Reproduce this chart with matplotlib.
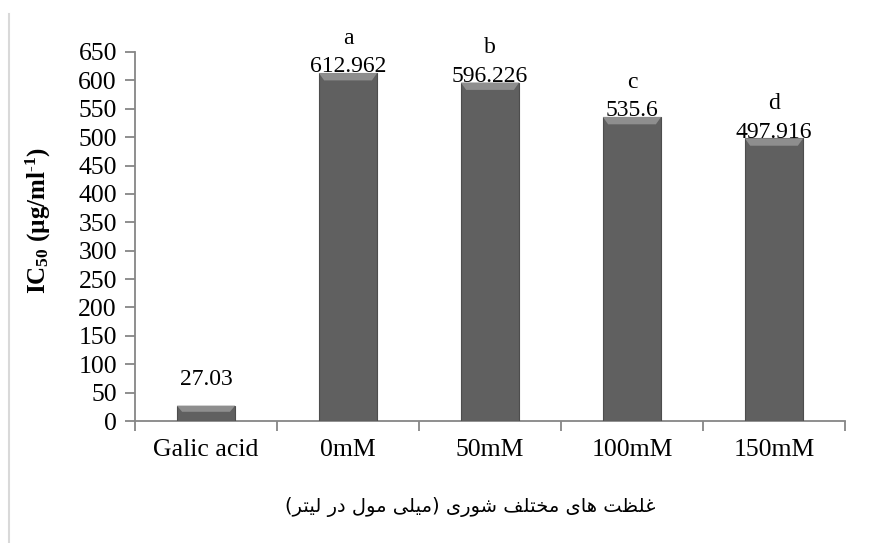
import matplotlib
matplotlib.use("Agg")
import matplotlib.pyplot as plt
from matplotlib.patches import Polygon
from matplotlib.lines import Line2D
import numpy as np

categories = ["Galic acid", "0mM", "50mM", "100mM", "150mM"]
ic50 = [27.03, 612.962, 596.226, 535.6, 497.916]
value_labels = ["27.03", "612.962", "596.226", "535.6", "497.916"]
letters = ["", "a", "b", "c", "d"]
yticks = list(range(0, 651, 50))

xlabel_fa = "غلظت های مختلف شوری (میلی مول در لیتر)"

# presentation forms: isolated, final, initial, medial (None = right-joining only)
FORMS = {
    "ا": ("\uFE8D", "\uFE8E", None, None),
    "ت": ("\uFE95", "\uFE96", "\uFE97", "\uFE98"),
    "خ": ("\uFEA5", "\uFEA6", "\uFEA7", "\uFEA8"),
    "د": ("\uFEA9", "\uFEAA", None, None),
    "ر": ("\uFEAD", "\uFEAE", None, None),
    "ش": ("\uFEB5", "\uFEB6", "\uFEB7", "\uFEB8"),
    "ظ": ("\uFEC5", "\uFEC6", "\uFEC7", "\uFEC8"),
    "غ": ("\uFECD", "\uFECE", "\uFECF", "\uFED0"),
    "ف": ("\uFED1", "\uFED2", "\uFED3", "\uFED4"),
    "ل": ("\uFEDD", "\uFEDE", "\uFEDF", "\uFEE0"),
    "م": ("\uFEE1", "\uFEE2", "\uFEE3", "\uFEE4"),
    "ه": ("\uFEE9", "\uFEEA", "\uFEEB", "\uFEEC"),
    "و": ("\uFEED", "\uFEEE", None, None),
    "ی": ("\uFEEF", "\uFEF0", "\uFEF3", "\uFEF4"),
}


def shape_rtl(text):
    """Very small Persian shaper + reversal, enough for the axis label."""
    out = []
    for i, ch in enumerate(text):
        if ch not in FORMS:
            out.append(ch)
            continue
        prev = text[i - 1] if i > 0 else ""
        nxt = text[i + 1] if i + 1 < len(text) else ""
        j_prev = prev in FORMS and FORMS[prev][2] is not None
        j_next = nxt in FORMS and FORMS[ch][2] is not None
        iso, fin, ini, med = FORMS[ch]
        if j_prev and j_next:
            out.append(med)
        elif j_prev:
            out.append(fin)
        elif j_next:
            out.append(ini)
        else:
            out.append(iso)
    vis = "".join(reversed(out))
    return vis.translate(str.maketrans("()", ")("))


plt.rcParams["font.family"] = ["Liberation Serif", "DejaVu Sans"]
plt.rcParams["mathtext.fontset"] = "custom"
plt.rcParams["mathtext.rm"] = "Liberation Serif"
plt.rcParams["mathtext.bf"] = "Liberation Serif:bold"
plt.rcParams["mathtext.it"] = "Liberation Serif:italic"

fig = plt.figure(figsize=(8.81, 5.43), dpi=100)
ax = fig.add_axes([135 / 881, 1 - 421 / 543, (845 - 135) / 881, (421 - 52) / 543])

x = np.arange(len(categories))
bar_w = 0.41
bars = ax.bar(x, ic50, bar_w, color="#606060", edgecolor="#4d4d4d",
              linewidth=0.8, zorder=3)

# bevel on top of each bar
for b in bars:
    x0, w, h = b.get_x(), b.get_width(), b.get_height()
    bev_h = min(13, h * 0.4)
    inset = w * 0.09
    ax.add_patch(Polygon([(x0, h), (x0 + w, h), (x0 + w - inset, h - bev_h),
                          (x0 + inset, h - bev_h)], closed=True,
                         facecolor="#8e8e8e", edgecolor="none", zorder=4))

ax.set_xlim(-0.5, len(categories) - 0.5)
ax.set_ylim(0, 650)
ax.set_yticks(yticks)
ax.set_xticks(x)
ax.set_xticklabels(categories)
ax.set_xticks(np.arange(-0.5, len(categories), 1), minor=True)

for s in ["top", "right"]:
    ax.spines[s].set_visible(False)
for s in ["left", "bottom"]:
    ax.spines[s].set_color("#868686")
    ax.spines[s].set_linewidth(1.3)

ax.tick_params(axis="y", length=7, width=1.3, color="#868686", labelsize=18.5, pad=6)
ax.tick_params(axis="x", which="major", length=0, labelsize=18.5, pad=13)
ax.tick_params(axis="x", which="minor", length=7, width=1.3, color="#868686")

for xi, v, lab, let in zip(x, ic50, value_labels, letters):
    if let:
        ax.annotate(let + "\n" + lab, (xi, v), xytext=(0, -3),
                    textcoords="offset points", ha="center", va="bottom",
                    fontsize=17, linespacing=1.45)
    else:
        ax.annotate(lab, (xi, v), xytext=(0, 11), textcoords="offset points",
                    ha="center", va="bottom", fontsize=17)

fig.text(38 / 881, 1 - 221 / 543,
         r"$\mathbf{IC_{50}}$ (µg/ml$^{\mathbf{\text{-}1}}$)",
         rotation=90, ha="center", va="center", fontsize=18, fontweight="bold")

fig.text(470 / 881, 1 - 507 / 543, shape_rtl(xlabel_fa), ha="center",
         va="center", fontsize=14, family="DejaVu Sans")

fig.add_artist(Line2D([9 / 881, 9 / 881], [0, 1 - 14 / 543],
                      transform=fig.transFigure, color="#d9d9d9", linewidth=1.5))

fig.savefig("out.png", dpi=100)
